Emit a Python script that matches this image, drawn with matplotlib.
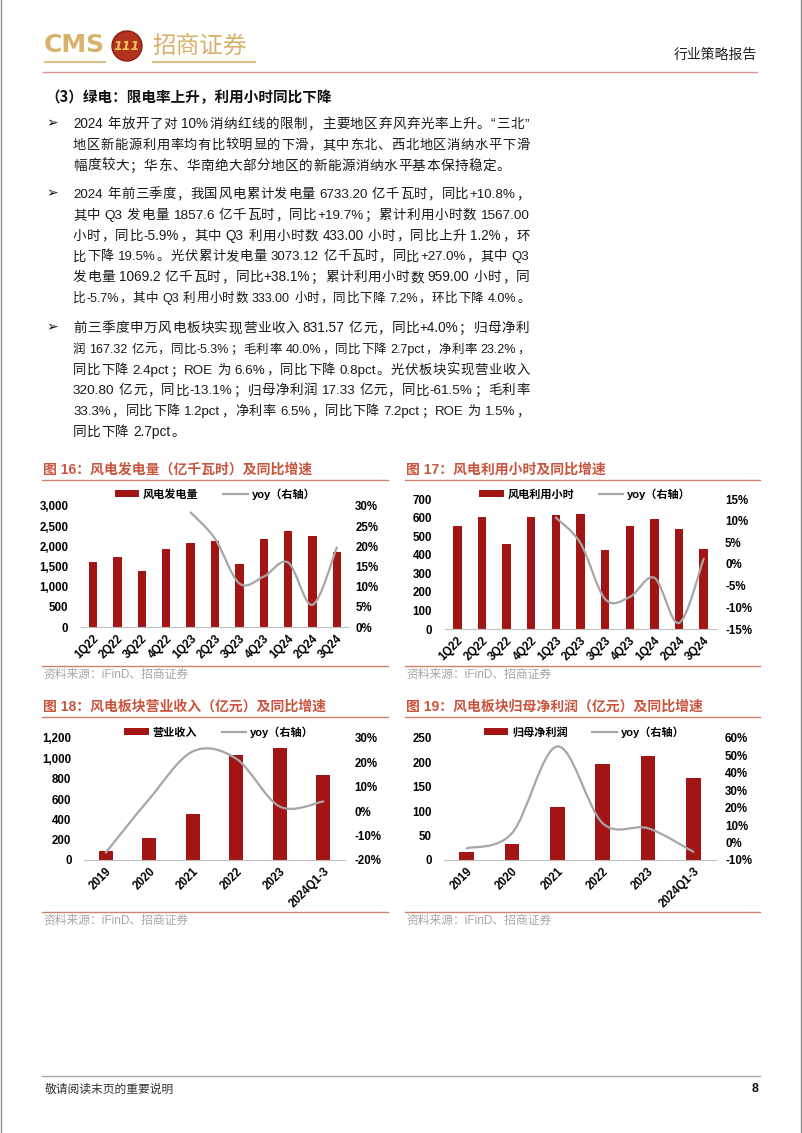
import re
import numpy as np
import matplotlib
matplotlib.use('Agg')
import matplotlib.pyplot as plt
import matplotlib.transforms as mtransforms
from matplotlib.path import Path
from matplotlib.patches import PathPatch, Circle
from matplotlib.lines import Line2D
from matplotlib.ticker import FuncFormatter
from matplotlib.font_manager import FontProperties

W, H = 802, 1133
CJK = 'Noto Sans CJK SC'
LAT = 'Liberation Sans'
MIX = [LAT, CJK, 'DejaVu Sans']
BAR = '#A31515'
LINE = '#A6A6A6'
TITLE = '#C9553F'
RULE = '#D4806E'
GOLD = '#D6B26A'

plt.rcParams['font.family'] = MIX
plt.rcParams['font.weight'] = 'bold'
plt.rcParams['axes.unicode_minus'] = False

# ---- data ----
quarters = ['1Q22', '2Q22', '3Q22', '4Q22', '1Q23', '2Q23', '3Q23', '4Q23', '1Q24', '2Q24', '3Q24']
wind_gen = [1619, 1742, 1397, 1932, 2071, 2129, 1553, 2178, 2392, 2244, 1858]
wind_gen_yoy = [np.nan, np.nan, np.nan, np.nan, 28.4, 21.9, 10.8, 12.5, 16.0, 5.5, 19.7]
wind_hours = [552, 601, 460, 603, 613, 619, 424, 557, 594, 536, 433]
wind_hours_yoy = [np.nan, np.nan, np.nan, np.nan, 10.7, 4.8, -8.1, -7.6, -3.2, -13.6, 1.2]
years = ['2019', '2020', '2021', '2022', '2023', '2024Q1-3']
revenue = [89, 220, 454, 1029, 1101, 832]
revenue_yoy = [-17.0, 5.0, 24.5, 21.5, 1.9, 4.0]
profit = [15.8, 32.9, 108, 196.6, 214, 167.3]
profit_yoy = [-3.3, 5.4, 55.2, 11.1, 8.2, -5.3]

section_title = '（3）绿电：限电率上升，利用小时同比下降'
paragraphs = [
    ['2024 年放开了对 10%消纳红线的限制，主要地区弃风弃光率上升。“三北”',
     '地区新能源利用率均有比较明显的下滑，其中东北、西北地区消纳水平下滑',
     '幅度较大；华东、华南绝大部分地区的新能源消纳水平基本保持稳定。'],
    ['2024 年前三季度，我国风电累计发电量 6733.20 亿千瓦时，同比+10.8%，',
     '其中 Q3 发电量 1857.6 亿千瓦时，同比+19.7%；累计利用小时数 1567.00',
     '小时，同比-5.9%，其中 Q3 利用小时数 433.00 小时，同比上升 1.2%，环',
     '比下降 19.5%。光伏累计发电量 3073.12 亿千瓦时，同比+27.0%，其中 Q3',
     '发电量 1069.2 亿千瓦时，同比+38.1%；累计利用小时数 959.00 小时，同',
     '比-5.7%，其中 Q3 利用小时数 333.00 小时，同比下降 7.2%，环比下降 4.0%。'],
    ['前三季度申万风电板块实现营业收入 831.57 亿元，同比+4.0%；归母净利',
     '润 167.32 亿元，同比-5.3%；毛利率 40.0%，同比下降 2.7pct，净利率 23.2%，',
     '同比下降 2.4pct；ROE 为 6.6%，同比下降 0.8pct。光伏板块实现营业收入',
     '320.80 亿元，同比-13.1%；归母净利润 17.33 亿元，同比-61.5%；毛利率',
     '33.3%，同比下降 1.2pct，净利率 6.5%，同比下降 7.2pct；ROE 为 1.5%，',
     '同比下降 2.7pct。'],
]
para_top = [123, 193, 327]
para_full_last = [False, True, False]
line_step = 20.7

fig = plt.figure(figsize=(W / 100, H / 100), dpi=100)
renderer = fig.canvas.get_renderer()


def fx(x):
    return x / W


def fy(y):
    return 1 - y / H


def hline(x0, x1, y, color, lw=1.0):
    fig.add_artist(Line2D([fx(x0), fx(x1)], [fy(y), fy(y)], color=color, lw=lw))


# ---- header ----
fig.text(fx(44), fy(45), 'CMS', family='DejaVu Sans', fontsize=18, color=GOLD,
         ha='left', va='center')
fig.add_artist(Circle((1.27, (H - 46) / 100), 0.15, transform=fig.dpi_scale_trans,
                      fc='#B3321E', ec='#8A2010', lw=1))
fig.text(fx(127), fy(46), '111', family='DejaVu Sans', fontsize=9, style='italic',
         color='#F2C75C', ha='center', va='center')
fig.text(fx(152), fy(46), '招商证券', family=CJK, fontsize=17, weight='normal',
         color=GOLD, ha='left', va='center')
hline(45, 105, 62, '#DCC08A', 1.5)
hline(153, 255, 62, '#DCC08A', 1.5)
fig.text(fx(757), fy(55), '行业策略报告', family=CJK, fontsize=10, weight='normal',
         color='#222222', ha='right', va='center')
hline(43, 757, 72, '#D9958B', 1.0)
fig.add_artist(Line2D([fx(1), fx(1)], [0, 1], color='#8C8C8C', lw=1))
fig.add_artist(Line2D([fx(801), fx(801)], [0, 1], color='#8C8C8C', lw=1))

# ---- body text (justified line by line) ----
BODY_SIZE = 9.8
TOK = re.compile(r'[A-Za-z0-9.%+\-]+|\s+|.')
PUNCT = '，；。：、'
_ink = {}


def is_wide(ch):
    return ord(ch) >= 0x2E80


def ink_width(t, fam, size):
    key = (t, fam, size)
    if key not in _ink:
        tt = fig.text(0, 0, t, fontsize=size, family=fam, weight='normal')
        _ink[key] = tt.get_window_extent(renderer).width
        tt.remove()
    return _ink[key]


def layout(s, size, squeeze):
    em = size * 100 / 72
    items = []
    for t in TOK.findall(s):
        if t.isspace():
            items.append([None, 0.25 * em * len(t), None])
            continue
        wide = len(t) == 1 and is_wide(t)
        fam = CJK if wide else LAT
        ink = ink_width(t, fam, size)
        if wide:
            adv = 0.6 * em if (squeeze and t in PUNCT) else em
            adv = max(adv, ink + 0.5)
        else:
            adv = ink + 1.0
        items.append([t, adv, fam])
    return items


def text_line(s, x0, yc, width, justify):
    size = BODY_SIZE
    items = layout(s, size, False)
    natural = sum(it[1] for it in items)
    if natural > width:
        items = layout(s, size, True)
        natural = sum(it[1] for it in items)
        if natural > width:
            size = round(size * width / natural - 0.05, 2)
            items = layout(s, size, True)
            natural = sum(it[1] for it in items)
    gaps = len(items) - 1
    extra = (width - natural) / gaps if (justify and gaps > 0) else 0
    extra = max(extra, 0)
    x = x0
    base = yc + 5.2
    for t, w, fam in items:
        if t is not None:
            fig.text(fx(x), fy(base), t, fontsize=size, family=fam,
                     weight='normal', color='#1A1A1A', ha='left', va='baseline')
        x += w + extra


fig.text(fx(45), fy(97), section_title, family=CJK, fontsize=10.5, weight='bold',
         color='#111111', ha='left', va='center')
for top, lines, full_last in zip(para_top, paragraphs, para_full_last):
    fig.text(fx(46), fy(top), '➢', family='DejaVu Sans', fontsize=10, weight='bold',
             color='#111111', ha='left', va='center')
    for i, s in enumerate(lines):
        last = i == len(lines) - 1
        text_line(s, 73, top + i * line_step, 457, justify=(not last) or full_last)


# ---- charts ----
def smooth_path(xs, ys):
    p = np.array([(x, y) for x, y in zip(xs, ys) if not np.isnan(y)], float)
    n = len(p)
    verts = [p[0]]
    codes = [Path.MOVETO]
    for i in range(n - 1):
        p0 = p[i - 1] if i > 0 else p[i]
        p3 = p[i + 2] if i + 2 < n else p[i + 1]
        c1 = p[i] + (p[i + 1] - p0) / 6
        c2 = p[i + 1] - (p3 - p[i]) / 6
        verts += [c1, c2, p[i + 1]]
        codes += [Path.CURVE4] * 3
    return Path(verts, codes)


tick_font = FontProperties(family=MIX, weight='bold', size=8.3)
leg_font = FontProperties(family=MIX, weight='bold', size=8)


def panel(title, tx, rule_x, title_y, bottom_y, box, cats, bars, yoy, bar_label,
          lim, step, rlim, rstep, bar_w, lpad, rpad, leg_c):
    fig.text(fx(tx), fy(title_y), title, family=MIX, fontsize=10, weight='bold',
             color=TITLE, ha='left', va='center')
    hline(rule_x[0], rule_x[1], title_y + 10, RULE, 1.0)
    hline(rule_x[0], rule_x[1], bottom_y, RULE, 1.0)
    fig.text(fx(tx), fy(bottom_y + 9), '资料来源：iFinD、招商证券', family=MIX,
             fontsize=8.5, weight='normal', color='#A6A6A6', ha='left', va='center')

    l, t, r, b = box
    ax = fig.add_axes([fx(l), fy(b), (r - l) / W, (b - t) / H])
    x = np.arange(len(cats))
    bc = ax.bar(x, bars, width=bar_w, color=BAR, zorder=2)
    ax.set_xlim(-0.5, len(cats) - 0.5)
    ax.set_ylim(0, lim)
    ax.set_yticks(np.arange(0, lim + 1, step))
    ax.yaxis.set_major_formatter(FuncFormatter(lambda v, p: f'{v:,.0f}'))
    for s in ['top', 'right', 'left']:
        ax.spines[s].set_visible(False)
    ax.spines['bottom'].set_color('#BFBFBF')
    ax.spines['bottom'].set_linewidth(0.8)
    ax.tick_params(length=0)
    ax.tick_params(axis='y', pad=lpad, labelsize=8.3)
    ax.tick_params(axis='x', pad=7)
    ax.set_xticks(x)
    ax.set_xticklabels(cats, rotation=45, ha='right', rotation_mode='anchor',
                       va='center', fontproperties=tick_font)
    off = mtransforms.ScaledTranslation(0.04, 0, fig.dpi_scale_trans)
    for lab in ax.get_xticklabels():
        lab.set_transform(lab.get_transform() + off)
    for lab in ax.get_yticklabels():
        lab.set_fontproperties(tick_font)

    ax2 = ax.twinx()
    ax2.set_ylim(*rlim)
    ax2.set_yticks(np.arange(rlim[0], rlim[1] + 0.1, rstep))
    ax2.yaxis.set_major_formatter(FuncFormatter(lambda v, p: f'{v:.0f}%'))
    for s in ax2.spines.values():
        s.set_visible(False)
    ax2.tick_params(length=0, pad=rpad, labelsize=8.3)
    for lab in ax2.get_yticklabels():
        lab.set_fontproperties(tick_font)
    ax2.add_patch(PathPatch(smooth_path(x, yoy), fill=False, ec=LINE, lw=1.6,
                            capstyle='round', joinstyle='round'))
    handle_line = Line2D([], [], color=LINE, lw=1.6)
    ax2.legend([bc, handle_line], [bar_label, 'yoy（右轴）'], ncol=2, loc='center',
               bbox_to_anchor=(fx(leg_c[0]), fy(leg_c[1])), bbox_transform=fig.transFigure,
               frameon=False, prop=leg_font, handlelength=2.2, handleheight=0.55,
               handletextpad=0.35, columnspacing=2.2, borderpad=0)


panel('图 16：风电发电量（亿千瓦时）及同比增速', 43, (42, 388), 470, 666,
      (81, 506, 349, 627), quarters, wind_gen, wind_gen_yoy, '风电发电量',
      3000, 500, (0, 30), 5, 0.34, 9, 4.5, (215, 494))
panel('图 17：风电利用小时及同比增速', 406, (405, 760), 470, 666,
      (445, 499, 716, 629), quarters, wind_hours, wind_hours_yoy, '风电利用小时',
      700, 100, (-15, 15), 5, 0.34, 9.5, 6.5, (585, 494))
panel('图 18：风电板块营业收入（亿元）及同比增速', 43, (42, 388), 707, 912,
      (84, 738, 345, 860), years, revenue, revenue_yoy, '营业收入',
      1200, 200, (-20, 30), 10, 0.32, 9, 7, (219, 732))
panel('图 19：风电板块归母净利润（亿元）及同比增速', 406, (405, 760), 707, 912,
      (444, 738, 716, 860), years, profit, profit_yoy, '归母净利润',
      250, 50, (-10, 60), 10, 0.32, 9, 6.5, (584, 732))

# ---- footer ----
hline(42, 760, 1076, '#A6A6A6', 1.0)
fig.text(fx(45), fy(1089), '敬请阅读末页的重要说明', family=CJK, fontsize=8.5,
         weight='normal', color='#333333', ha='left', va='center')
fig.text(fx(758), fy(1089), '8', family=LAT, fontsize=9, weight='bold',
         color='#111111', ha='right', va='center')

fig.savefig('out.png', dpi=100, facecolor='white')
